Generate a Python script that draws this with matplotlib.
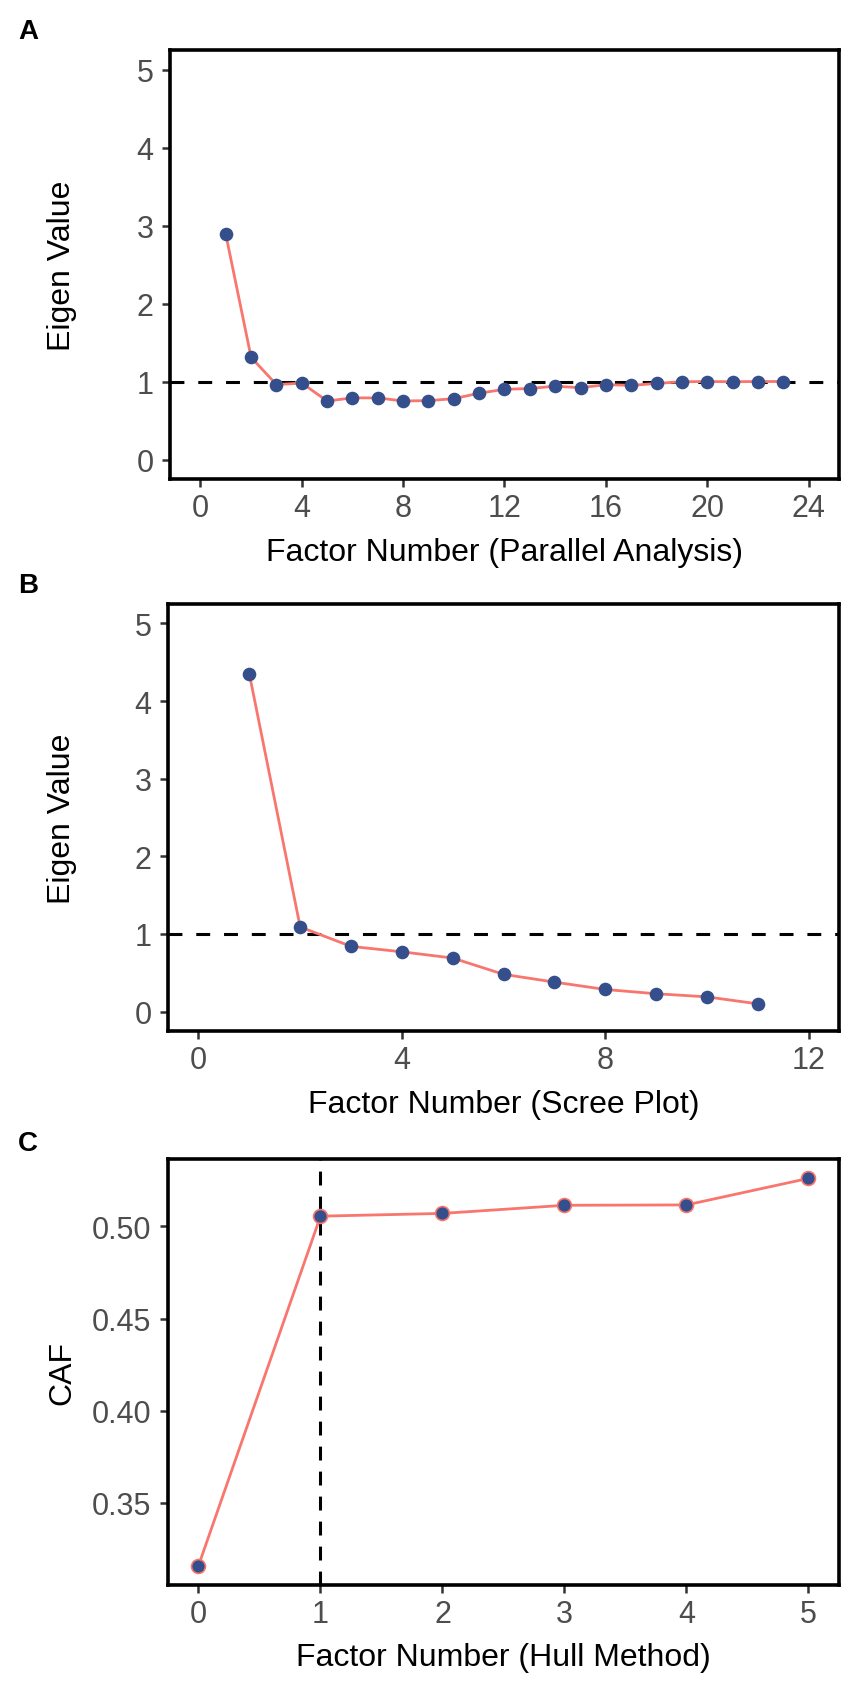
import matplotlib.pyplot as plt
import matplotlib.transforms as mtransforms

plt.rcParams['font.family'] = ['Liberation Sans', 'DejaVu Sans']
plt.rcParams['lines.scale_dashes'] = False

# panel A: parallel analysis
pa_factor = list(range(1, 24))
pa_eigen = [2.89, 1.31, 0.96, 0.98, 0.75, 0.79, 0.79, 0.75, 0.755, 0.78, 0.85,
            0.90, 0.91, 0.94, 0.92, 0.96, 0.95, 0.975, 0.997, 1.0, 0.997, 1.0, 1.0]

# panel B: scree plot
scree_factor = list(range(1, 12))
scree_eigen = [4.35, 1.09, 0.84, 0.77, 0.69, 0.48, 0.38, 0.285, 0.23, 0.19, 0.10]

# panel C: hull method
hull_factor = [0, 1, 2, 3, 4, 5]
hull_caf = [0.316, 0.5055, 0.507, 0.5114, 0.5116, 0.526]
hull_choice = 1

line_col = '#F8766D'
pt_col = '#344F8C'
tick_col = '#4D4D4D'

W, H = 854, 1683
fig = plt.figure(figsize=(W / 100, H / 100), dpi=100)


def make_axes(left, top, right, bottom):
    return fig.add_axes([left / W, 1 - bottom / H, (right - left) / W, (bottom - top) / H])


def style(ax, xlab, ylab, xlab_base):
    for s in ax.spines.values():
        s.set_linewidth(2.6)
        s.set_color('black')
    ax.tick_params(direction='out', length=5.8, width=1.8, color='#333333',
                   labelsize=22, labelcolor=tick_col)
    ax.tick_params(axis='x', pad=4)
    ax.tick_params(axis='y', pad=6)
    ax.set_xlabel(xlab, fontsize=23, va='baseline')
    ax.set_ylabel(ylab, fontsize=23, va='center')
    ax.xaxis.set_label_coords(0.5, 1 - xlab_base / H,
                              transform=mtransforms.blended_transform_factory(ax.transAxes, fig.transFigure))
    ax.yaxis.set_label_coords(62 / W, 0.5,
                              transform=mtransforms.blended_transform_factory(fig.transFigure, ax.transAxes))


axA = make_axes(170, 51, 839, 480)
axB = make_axes(168, 605, 839, 1032)
axC = make_axes(168, 1160, 839, 1586)

# A
axA.axhline(1, color='black', lw=2.2, dashes=(10, 10), zorder=1)
axA.plot(pa_factor, pa_eigen, color=line_col, lw=2.0, zorder=2)
axA.plot(pa_factor, pa_eigen, 'o', color=pt_col, ms=9.8, mew=0, zorder=3)
axA.set_xlim(-1.2, 25.2)
axA.set_ylim(-0.25, 5.25)
axA.set_xticks([0, 4, 8, 12, 16, 20, 24])
axA.set_yticks([0, 1, 2, 3, 4, 5])
style(axA, 'Factor Number (Parallel Analysis)', 'Eigen Value', 561)

# B
axB.axhline(1, color='black', lw=2.2, dashes=(10, 10), zorder=1)
axB.plot(scree_factor, scree_eigen, color=line_col, lw=2.0, zorder=2)
axB.plot(scree_factor, scree_eigen, 'o', color=pt_col, ms=9.8, mew=0, zorder=3)
axB.set_xlim(-0.6, 12.6)
axB.set_ylim(-0.25, 5.25)
axB.set_xticks([0, 4, 8, 12])
axB.set_yticks([0, 1, 2, 3, 4, 5])
style(axB, 'Factor Number (Scree Plot)', 'Eigen Value', 1113)

# C
axC.axvline(hull_choice, color='black', lw=2.2, dashes=(10, 8), zorder=1)
axC.plot(hull_factor, hull_caf, color=line_col, lw=2.0, zorder=2)
axC.plot(hull_factor, hull_caf, 'o', mfc=pt_col, mec=line_col, ms=10, mew=1.2, zorder=3)
axC.set_xlim(-0.25, 5.25)
axC.set_ylim(0.3055, 0.5365)
axC.set_xticks(hull_factor)
axC.set_yticks([0.35, 0.40, 0.45, 0.50])
axC.set_yticklabels(['0.35', '0.40', '0.45', '0.50'])
style(axC, 'Factor Number (Hull Method)', 'CAF', 1666)

for lab, y in [('A', 32), ('B', 586), ('C', 1144)]:
    fig.text(28 / W, 1 - y / H, lab, fontsize=20, fontweight='bold',
             ha='center', va='center')

fig.savefig('out.png', dpi=100, facecolor='white')
